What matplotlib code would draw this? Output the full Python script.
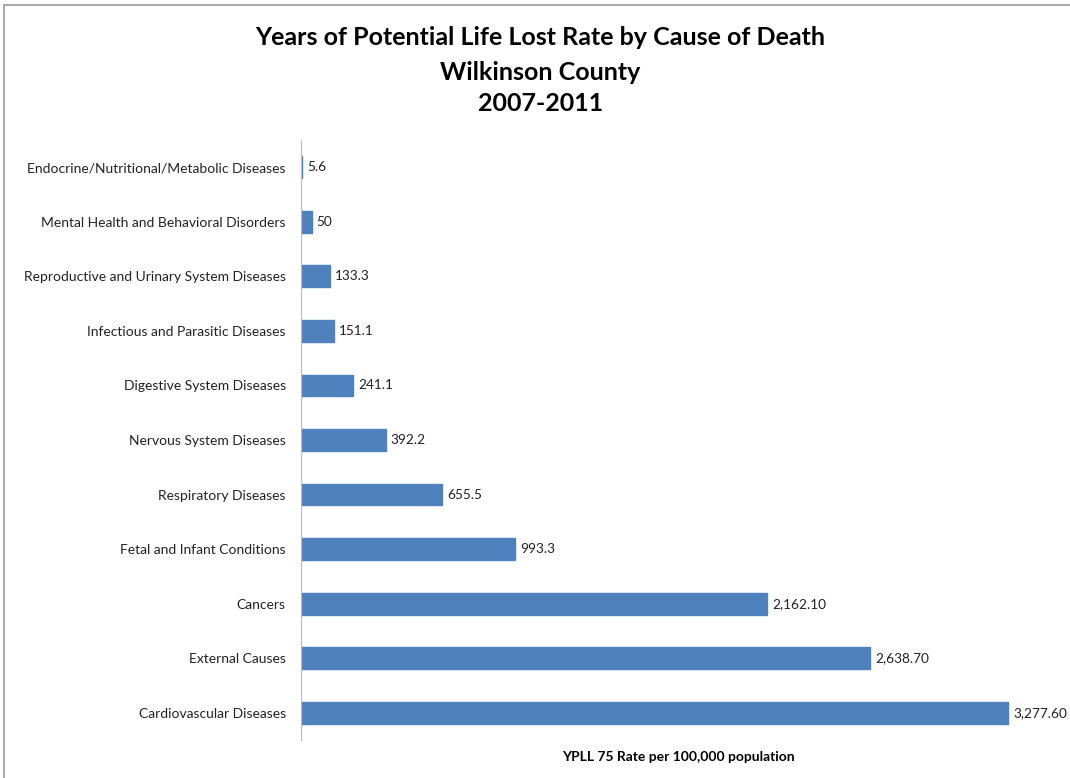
import matplotlib.pyplot as plt
import matplotlib.patches as mpatches

# causes, top to bottom as shown
causes = ['Endocrine/Nutritional/Metabolic Diseases',
          'Mental Health and Behavioral Disorders',
          'Reproductive and Urinary System Diseases',
          'Infectious and Parasitic Diseases',
          'Digestive System Diseases',
          'Nervous System Diseases',
          'Respiratory Diseases',
          'Fetal and Infant Conditions',
          'Cancers',
          'External Causes',
          'Cardiovascular Diseases']
rates = [5.6, 50, 133.3, 151.1, 241.1, 392.2, 655.5, 993.3, 2162.1, 2638.7, 3277.6]
rate_labels = ['5.6', '50', '133.3', '151.1', '241.1', '392.2', '655.5', '993.3',
               '2,162.10', '2,638.70', '3,277.60']

plt.rcParams['font.family'] = ['Lato', 'DejaVu Sans']

fig = plt.figure(figsize=(10.7, 7.78), dpi=100)
ax = fig.add_axes([0.2813, 0.0488, 0.7057, 0.7712])

ypos = list(range(len(causes)))
ax.barh(ypos, rates, height=0.4, color='#4F81BD', edgecolor='#4F81BD')
ax.set_ylim(len(causes) - 0.5, -0.5)
ax.set_xlim(0, 3500)

for y, v, s in zip(ypos, rates, rate_labels):
    ax.annotate(s, (v, y), xytext=(3.5, 0), textcoords='offset points',
                va='center', ha='left', fontsize=9.8, color='#222222')

ax.set_yticks(ypos)
ax.set_yticklabels(causes, fontsize=10, color='#222222')
ax.tick_params(axis='y', length=0, pad=11)
ax.set_xticks([])
for side in ['top', 'right', 'bottom']:
    ax.spines[side].set_visible(False)
ax.spines['left'].set_color('#BBBBBB')
ax.set_xlabel('YPLL 75 Rate per 100,000 population', fontsize=10,
              fontweight='bold', labelpad=8)

fig.text(0.505, 0.952, 'Years of Potential Life Lost Rate by Cause of Death',
         ha='center', va='center', fontsize=18, fontweight='bold')
fig.text(0.505, 0.907, 'Wilkinson County', ha='center', va='center',
         fontsize=18, fontweight='bold')
fig.text(0.505, 0.867, '2007-2011', ha='center', va='center',
         fontsize=18, fontweight='bold')

# chart area border
fig.patches.append(mpatches.Rectangle((0.004, -0.01), 1.02, 1.004,
                                      transform=fig.transFigure, fill=False,
                                      edgecolor='#999999', lw=1.2))

fig.savefig('out.png', dpi=100)
